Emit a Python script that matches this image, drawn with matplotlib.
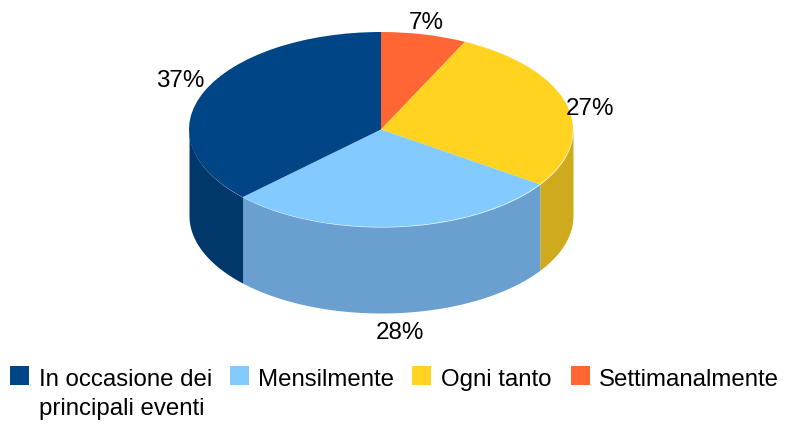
import matplotlib
matplotlib.use('Agg')
import matplotlib.pyplot as plt
import numpy as np

# valori stimati dalla figura (senso orario da ore 12)
categorie = ['Settimanalmente', 'Ogni tanto', 'Mensilmente', 'In occasione dei\nprincipali eventi']
valori = [7.2, 27.3, 28.3, 37.2]
etichette = ['7%', '27%', '28%', '37%']
colori = ['#ff6633', '#ffd320', '#83caff', '#004586']
colori_lato = ['#cc5229', '#cfaa1c', '#6aa0cf', '#00386c']

W, H = 785, 424
cx, cy = 381, 129.5
rx, ry = 192, 97.5
prof = 86

plt.rcParams['font.family'] = ['Liberation Sans', 'DejaVu Sans']

fig = plt.figure(figsize=(W / 100, H / 100), dpi=100)
ax = fig.add_axes([0, 0, 1, 1])

# parte superiore: pie vero, poi schiacciato con i limiti degli assi
wedges, _ = ax.pie(valori, colors=colori, startangle=90, counterclock=False,
                   radius=1, center=(0, 0), wedgeprops={'linewidth': 0})
for w in wedges:
    w.set_zorder(5)
ax.set_aspect('auto')
ax.set_xlim(-cx / rx, (W - cx) / rx)
ax.set_ylim(-(H - cy) / ry, cy / ry)
ax.axis('off')

# lati del cilindro, solo la metà anteriore si vede
d = prof / ry
bordi = 90 - np.cumsum([0] + valori) / sum(valori) * 360
for i in range(len(valori)):
    a = np.radians(np.linspace(bordi[i], bordi[i + 1], 400))
    a = a[np.sin(a) <= 0]
    if len(a) == 0:
        continue
    ax.fill_between(np.cos(a), np.sin(a), np.sin(a) - d, color=colori_lato[i], lw=0, zorder=2)

def px(x, y):
    return (x - cx) / rx, (cy - y) / ry

pos_etichette = [(426, 23), (590, 109), (400, 333), (180, 81)]
for t, (x, y) in zip(etichette, pos_etichette):
    ax.text(*px(x, y), t, fontsize=17.4, ha='center', va='center', color='black', zorder=10)

# legenda
leg_x = [10, 230, 412, 571]
leg_testo = [39, 258, 441, 599]
leg_ordine = [3, 2, 1, 0]
for lx, tx, j in zip(leg_x, leg_testo, leg_ordine):
    ax.add_patch(plt.Rectangle(px(lx, 385), 18.5 / rx, 19 / ry, color=colori[j], lw=0, zorder=10))
    ax.text(*px(tx, 380), categorie[j].split('\n')[0], fontsize=17.3, ha='left', va='center', zorder=10)
ax.text(*px(39, 409), categorie[3].split('\n')[1], fontsize=17.3, ha='left', va='center', zorder=10)

fig.savefig('out.png', dpi=100)
